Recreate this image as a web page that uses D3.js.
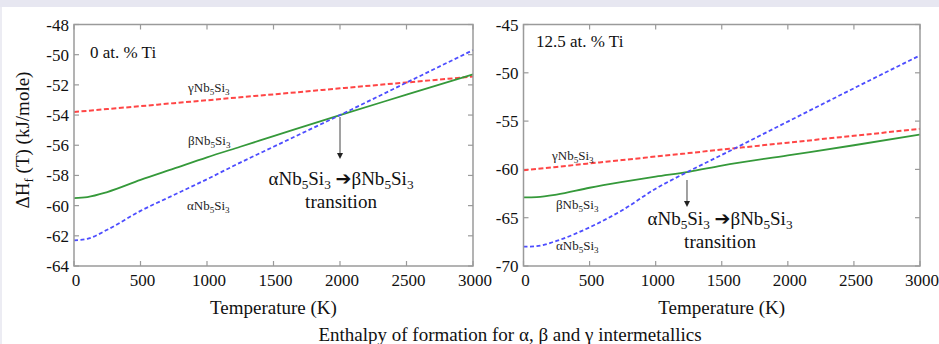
<!DOCTYPE html>
<html>
<head>
<meta charset="utf-8">
<script src="https://cdn.jsdelivr.net/npm/d3@7"></script>
<style>
  body { margin: 0; background: #fff; }
  svg { display: block; font-family: "Liberation Serif", "Times New Roman", serif; }
  .frame { fill: none; stroke: #9a9a9a; stroke-width: 1.5; }
  .tick-in { stroke: #9a9a9a; stroke-width: 1.2; }
  .tlabel { font-size: 17px; fill: #111; }
</style>
</head>
<body>
<svg width="939" height="344"></svg>
<script>
// temperatures (K) sampled along each curve
var temps = [0, 100, 250, 500, 750, 1000, 1250, 1500, 2000, 2500, 3000];

// 0 at. % Ti
var alpha0 = [-62.3, -62.2, -61.6, -60.35, -59.3, -58.25, -57.15, -56.1, -54.0, -51.85, -49.7];
var beta0  = [-59.5, -59.43, -59.1, -58.3, -57.55, -56.8, -56.1, -55.4, -54.0, -52.65, -51.3];
var gamma0 = [-53.8, -53.72, -53.6, -53.41, -53.21, -53.02, -52.82, -52.63, -52.23, -51.84, -51.45];

// 12.5 at. % Ti
var alpha12 = [-68.0, -67.95, -67.4, -66.0, -64.2, -62.0, -60.2, -58.5, -55.05, -51.6, -48.2];
var beta12  = [-62.9, -62.86, -62.6, -61.9, -61.3, -60.75, -60.25, -59.6, -58.55, -57.5, -56.4];
var gamma12 = [-60.1, -59.96, -59.74, -59.38, -59.03, -58.67, -58.31, -57.95, -57.23, -56.52, -55.8];

var xTicks = [0, 500, 1000, 1500, 2000, 2500, 3000];
var yTicks0 = [-48, -50, -52, -54, -56, -58, -60, -62, -64];
var yTicks12 = [-45, -50, -55, -60, -65, -70];

var svg = d3.select("svg");

svg.append("rect").attr("width", 939).attr("height", 7).attr("fill", "#e7e7f1");
svg.append("rect").attr("x", 0).attr("y", 7).attr("width", 2).attr("height", 337).attr("fill", "#ececf3");

// writes e.g. "αNb5Si3" with subscripts
function formula(sel, greek, size, first) {
  var s = size * 0.2;
  sel.append("tspan").attr("dy", first ? 0 : -s).text(greek + "Nb");
  sel.append("tspan").attr("font-size", size * 0.7).attr("dy", s).text("5");
  sel.append("tspan").attr("dy", -s).text("Si");
  sel.append("tspan").attr("font-size", size * 0.7).attr("dy", s).text("3");
}

function panel(opt) {
  var x = d3.scaleLinear().domain([0, 3000]).range([opt.left, opt.right]);
  var y = d3.scaleLinear().domain(opt.ydom).range([266, 24.5]);
  var g = svg.append("g");

  // inward ticks on all four sides
  xTicks.forEach(function(t) {
    g.append("line").attr("class", "tick-in").attr("x1", x(t)).attr("x2", x(t)).attr("y1", 266).attr("y2", 261);
    g.append("line").attr("class", "tick-in").attr("x1", x(t)).attr("x2", x(t)).attr("y1", 24.5).attr("y2", 29.5);
    g.append("text").attr("class", "tlabel").attr("x", x(t) + 2).attr("y", 286)
      .attr("text-anchor", "middle").text(t);
  });
  opt.yticks.forEach(function(t) {
    g.append("line").attr("class", "tick-in").attr("x1", opt.left).attr("x2", opt.left + 5).attr("y1", y(t)).attr("y2", y(t));
    g.append("line").attr("class", "tick-in").attr("x1", opt.right).attr("x2", opt.right - 5).attr("y1", y(t)).attr("y2", y(t));
    g.append("text").attr("class", "tlabel").attr("x", opt.left - 5).attr("y", y(t) + 6)
      .attr("text-anchor", "end").text(t);
  });

  var line = d3.line()
    .x(function(d) { return x(d[0]); })
    .y(function(d) { return y(d[1]); })
    .curve(d3.curveMonotoneX);

  var series = [
    {v: opt.gamma, color: "#ff4545", dash: "5,2.5", w: 2},
    {v: opt.beta, color: "#35993a", dash: null, w: 1.8},
    {v: opt.alpha, color: "#4d4dff", dash: "4,2.5", w: 1.8}
  ];
  series.forEach(function(s) {
    g.append("path")
      .datum(temps.map(function(t, i) { return [t, s.v[i]]; }))
      .attr("fill", "none")
      .attr("stroke", s.color)
      .attr("stroke-width", s.w)
      .attr("stroke-dasharray", s.dash)
      .attr("d", line);
  });

  g.append("rect").attr("class", "frame")
    .attr("x", opt.left).attr("y", 24.5)
    .attr("width", opt.right - opt.left).attr("height", 266 - 24.5);

  g.append("text").attr("x", opt.tx).attr("y", opt.ty).attr("font-size", 17).attr("fill", "#111").text(opt.title);

  opt.labels.forEach(function(l) {
    var t = g.append("text").attr("x", l[1]).attr("y", l[2]).attr("font-size", 13).attr("fill", "#222");
    formula(t, l[0], 13, true);
  });

  // transition arrow and note
  var ax = x(opt.trans);
  g.append("line").attr("x1", ax).attr("x2", ax).attr("y1", opt.a1).attr("y2", opt.a2 - 5)
    .attr("stroke", "#444").attr("stroke-width", 1);
  g.append("path").attr("d", "M" + (ax - 3) + "," + (opt.a2 - 6) + "L" + (ax + 3) + "," + (opt.a2 - 6) + "L" + ax + "," + opt.a2 + "Z")
    .attr("fill", "#222");
  var n = g.append("text").attr("x", opt.nx).attr("y", opt.ny).attr("font-size", 19)
    .attr("text-anchor", "middle").attr("fill", "#111");
  formula(n, "α", 19, true);
  n.append("tspan").attr("dy", -19 * 0.2).text(" ");
  n.append("tspan").attr("font-family", "DejaVu Sans").attr("font-size", 19).text("\u2794");
  formula(n, "β", 19, true);
  g.append("text").attr("x", opt.nx).attr("y", opt.ny + 23).attr("font-size", 19)
    .attr("text-anchor", "middle").attr("fill", "#111").text("transition");

  g.append("text").attr("x", (opt.left + opt.right) / 2).attr("y", 314).attr("font-size", 19)
    .attr("text-anchor", "middle").attr("fill", "#111").text("Temperature (K)");
}

panel({
  left: 74, right: 473, ydom: [-64, -48], yticks: yTicks0,
  alpha: alpha0, beta: beta0, gamma: gamma0,
  title: "0 at. % Ti", tx: 90, ty: 58,
  labels: [["γ", 188, 92], ["β", 188, 145], ["α", 187, 210]],
  trans: 2000, a1: 117, a2: 159, nx: 341, ny: 185
});

panel({
  left: 523.5, right: 920, ydom: [-70, -45], yticks: yTicks12,
  alpha: alpha12, beta: beta12, gamma: gamma12,
  title: "12.5 at. % Ti", tx: 536, ty: 47,
  labels: [["γ", 552, 160], ["β", 556, 209], ["α", 556, 250]],
  trans: 1237, a1: 180, a2: 207, nx: 720, ny: 225
});

// y axis title
var yt = svg.append("text").attr("transform", "translate(29,140) rotate(-90)")
  .attr("text-anchor", "middle").attr("font-size", 19).attr("fill", "#111");
yt.append("tspan").text("ΔH");
yt.append("tspan").attr("font-size", 13).attr("dy", 4).text("f");
yt.append("tspan").attr("dy", -4).text(" (T) (kJ/mole)");

svg.append("text").attr("x", 510).attr("y", 341).attr("text-anchor", "middle")
  .attr("font-size", 19).attr("fill", "#111")
  .text("Enthalpy of formation for α, β and γ intermetallics");
</script>
</body>
</html>
